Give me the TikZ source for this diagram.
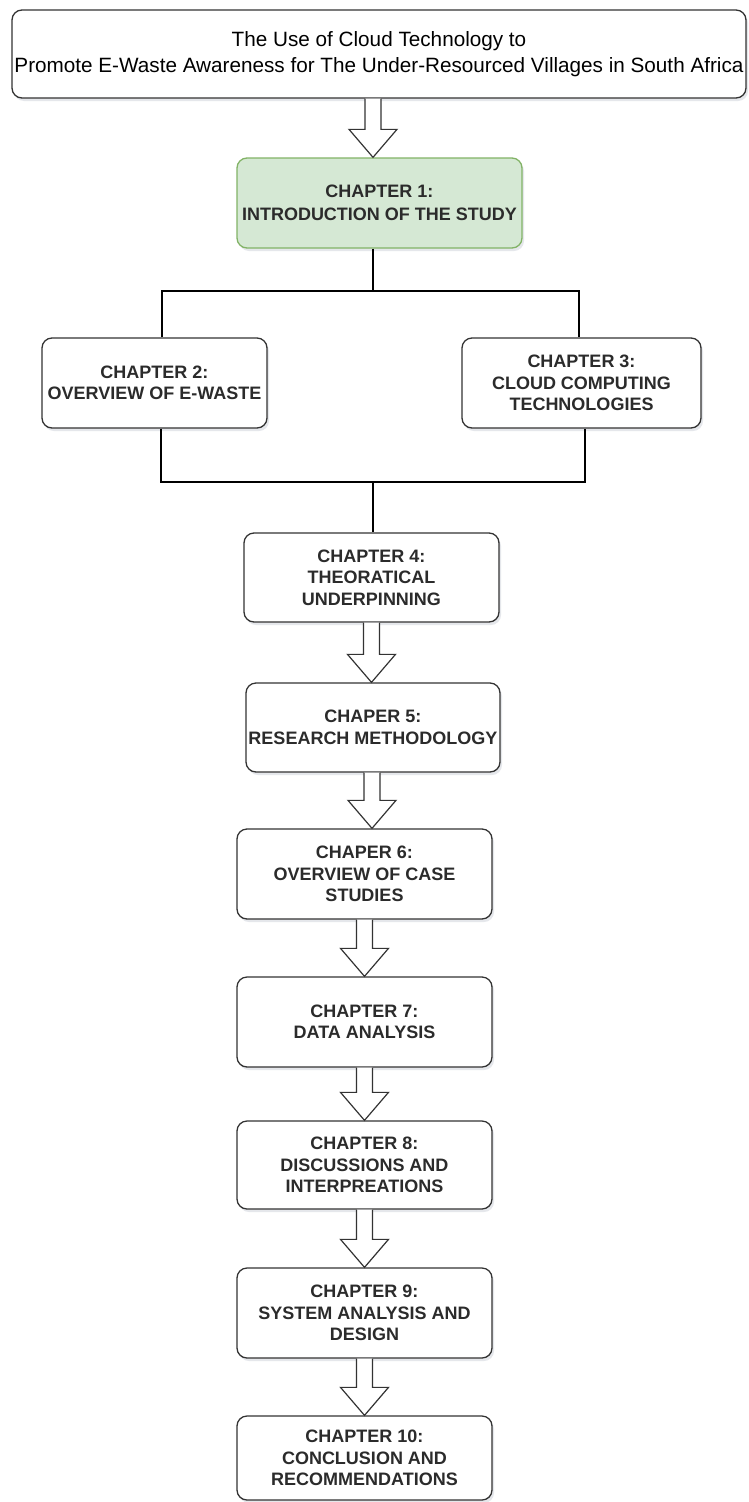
\documentclass[tikz,border=0pt]{standalone}
\usepackage{fontspec}
\setmainfont{Liberation Sans}
\usetikzlibrary{calc,shadows}

\definecolor{txtgray}{HTML}{2B2B2B}
\definecolor{boxline}{HTML}{333333}
\definecolor{greenfill}{HTML}{D5E8D4}
\definecolor{greenline}{HTML}{82B366}
\definecolor{shadowc}{HTML}{8A93A8}

\tikzset{
  softshadow/.style={drop shadow={shadow xshift=2pt, shadow yshift=-3pt, opacity=0.22, fill=shadowc}},
  box/.style={draw=boxline, line width=1.3pt, rounded corners=10pt, fill=white,
    align=center, inner sep=0pt, text=txtgray, softshadow,
    font=\fontsize{18}{21.5}\selectfont\bfseries},
  titlebox/.style={box, text=black, font=\fontsize{20.7}{26}\selectfont},
  greenbox/.style={box, fill=greenfill, draw=greenline, font=\fontsize{18}{23}\selectfont\bfseries},
  link/.style={draw=black, line width=2pt},
  hollow/.style={draw=boxline, line width=1.2pt, fill=white, line join=miter},
}

% hollow block arrow from the bottom of #1 to the top of #2, shifted by #3 (pt)
\newcommand\blockarrow[3]{%
  \filldraw[hollow] let \p1=($(#1.south)+(#3,0)$), \p2=(#2.north) in
    (\x1-8pt,\y1) -- (\x1-8pt,\y2+28pt) -- (\x1-24pt,\y2+28pt) -- (\x1,\y2)
    -- (\x1+24pt,\y2+28pt) -- (\x1+8pt,\y2+28pt) -- (\x1+8pt,\y1);
}

\begin{document}
\begin{tikzpicture}[x=1pt, y=-1pt]
  \useasboundingbox[fill=white] (0,0) rectangle (749,1502);

  % title and chapter boxes
  \node[titlebox, minimum width=734pt, minimum height=88pt] (title) at (379,54)
    {The Use of Cloud Technology to\\Promote E-Waste Awareness for The Under-Resourced Villages in South Africa};
  \node[greenbox, minimum width=285pt, minimum height=90pt] (ch1) at (379.5,203)
    {CHAPTER 1:\\INTRODUCTION OF THE STUDY};
  \node[box, minimum width=225pt, minimum height=90pt] (ch2) at (154.5,383)
    {CHAPTER 2:\\OVERVIEW OF E-WASTE};
  \node[box, minimum width=239pt, minimum height=90pt] (ch3) at (581.5,383)
    {CHAPTER 3:\\CLOUD COMPUTING\\TECHNOLOGIES};
  \node[box, minimum width=255pt, minimum height=89pt] (ch4) at (371.5,577.5)
    {CHAPTER 4:\\THEORATICAL\\UNDERPINNING};
  \node[box, minimum width=254pt, minimum height=89pt] (ch5) at (373,727.5)
    {CHAPER 5:\\RESEARCH METHODOLOGY};
  \node[box, minimum width=255pt, minimum height=90pt] (ch6) at (364.5,874)
    {CHAPER 6:\\OVERVIEW OF CASE\\STUDIES};
  \node[box, minimum width=255pt, minimum height=90pt] (ch7) at (364.5,1022)
    {CHAPTER 7:\\DATA ANALYSIS};
  \node[box, minimum width=255pt, minimum height=88pt] (ch8) at (364.5,1165)
    {CHAPTER 8:\\DISCUSSIONS AND\\INTERPREATIONS};
  \node[box, minimum width=255pt, minimum height=90pt] (ch9) at (364.5,1313)
    {CHAPTER 9:\\SYSTEM ANALYSIS AND\\DESIGN};
  \node[box, minimum width=255pt, minimum height=84pt] (ch10) at (364.5,1458)
    {CHAPTER 10:\\CONCLUSION AND\\RECOMMENDATIONS};

  % branching connectors around chapters 2 and 3
  \coordinate (split) at (373,291);
  \coordinate (join) at (373,482);
  \draw[link] ($(ch1.south)+(-6.5,0)$) -- (split);
  \draw[link] ($(ch2.north)+(7.5,0)$) |- (split) -| ($(ch3.north)+(-2.5,0)$);
  \draw[link] ($(ch2.south)+(6.5,0)$) |- (join) -| ($(ch3.south)+(3.5,0)$);
  \draw[link] (join) -- (ch4.north -| join);

  % block arrows
  \blockarrow{title}{ch1}{-6}
  \blockarrow{ch4}{ch5}{0}
  \blockarrow{ch5}{ch6}{-1}
  \blockarrow{ch6}{ch7}{0}
  \blockarrow{ch7}{ch8}{0}
  \blockarrow{ch8}{ch9}{0}
  \blockarrow{ch9}{ch10}{0}
\end{tikzpicture}
\end{document}
